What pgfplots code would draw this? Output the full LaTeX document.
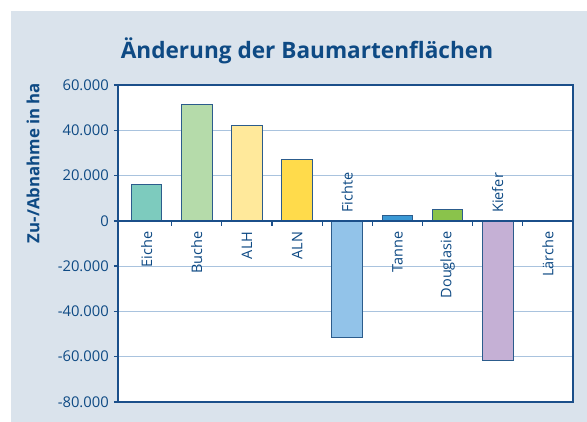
\documentclass[border=0pt]{standalone}
\usepackage{pgfplots}
\pgfplotsset{compat=1.18}
\usepackage{fontspec}
\setmainfont{Open Sans}
\definecolor{panel}{HTML}{DAE3EC}
\definecolor{txt}{HTML}{0E4A84}
\definecolor{axl}{HTML}{1B4F8A}
\definecolor{gridc}{HTML}{A9C3DE}
\definecolor{edge}{HTML}{2C5C8C}
\definecolor{cEiche}{HTML}{7DCBBE}
\definecolor{cBuche}{HTML}{B5DBAA}
\definecolor{cALH}{HTML}{FFE99B}
\definecolor{cALN}{HTML}{FFDB4B}
\definecolor{cFichte}{HTML}{92C3E9}
\definecolor{cTanne}{HTML}{3B99D5}
\definecolor{cDouglasie}{HTML}{8AC34B}
\definecolor{cKiefer}{HTML}{C5B0D5}
\begin{document}
\begin{tikzpicture}[x=1pt,y=1pt]
\fill[white] (0,0) rectangle (587,422);
\fill[panel] (11,0) rectangle (587,411);
\node[font=\bfseries\fontsize{22.6}{26}\selectfont, text=txt] at (307,371) {Änderung der Baumartenflächen};
\node[rotate=90, font=\bfseries\fontsize{16.8}{19}\selectfont, text=txt] at (33,259) {Zu-/Abnahme in ha};
\begin{axis}[at={(118pt,20pt)}, anchor=south west, scale only axis,
  width=455pt, height=317pt,
  xmin=-0.57, xmax=8.5, ymin=-80000, ymax=60000,
  xtick=\empty, scaled y ticks=false,
  ytick={-80000,-60000,-40000,-20000,0,20000,40000,60000},
  yticklabels={-80.000,-60.000,-40.000,-20.000,0,20.000,40.000,60.000},
  ytick pos=left, tick align=outside, major tick length=4pt,
  ymajorgrids, grid style={draw=gridc, line width=1pt},
  axis line style={draw=axl, line width=1.3pt},
  tick style={draw=axl, line width=1.3pt},
  yticklabel style={font=\fontsize{14.8}{17}\selectfont, text=txt, inner sep=0pt, xshift=-5pt},
  axis background/.style={fill=white},
  clip=false]
\addplot[ybar, bar width=0.61, bar shift=0pt, draw=edge, line width=1pt, fill=cEiche] coordinates {(0,16000)};
\addplot[ybar, bar width=0.61, bar shift=0pt, draw=edge, line width=1pt, fill=cBuche] coordinates {(1,51500)};
\addplot[ybar, bar width=0.61, bar shift=0pt, draw=edge, line width=1pt, fill=cALH] coordinates {(2,42300)};
\addplot[ybar, bar width=0.61, bar shift=0pt, draw=edge, line width=1pt, fill=cALN] coordinates {(3,27000)};
\addplot[ybar, bar width=0.61, bar shift=0pt, draw=edge, line width=1pt, fill=cFichte] coordinates {(4,-51300)};
\addplot[ybar, bar width=0.61, bar shift=0pt, draw=edge, line width=1pt, fill=cTanne] coordinates {(5,2200)};
\addplot[ybar, bar width=0.61, bar shift=0pt, draw=edge, line width=1pt, fill=cDouglasie] coordinates {(6,5200)};
\addplot[ybar, bar width=0.61, bar shift=0pt, draw=edge, line width=1pt, fill=cKiefer] coordinates {(7,-61800)};
\addplot[ybar, bar width=0.61, bar shift=0pt, draw=none, fill=none] coordinates {(8,0)};
\draw[axl, line width=1.3pt] (axis cs:-0.57,0) -- (axis cs:8.5,0);
\pgfplotsinvokeforeach{0.5,1.5,2.5,3.5,4.5,5.5,6.5,7.5}{\draw[axl, line width=1.3pt] (axis cs:#1,0) -- ++(0pt,-5pt);}
\tikzset{cat/.style={rotate=90, inner sep=0pt, font=\fontsize{14.5}{17}\selectfont, text=txt}}
\node[cat, anchor=east] at (axis cs:0,-4700) {Eiche};
\node[cat, anchor=east] at (axis cs:1,-4700) {Buche};
\node[cat, anchor=east] at (axis cs:2,-4700) {ALH};
\node[cat, anchor=east] at (axis cs:3,-4700) {ALN};
\node[cat, anchor=west] at (axis cs:4,3500) {Fichte};
\node[cat, anchor=east] at (axis cs:5,-4700) {Tanne};
\node[cat, anchor=east] at (axis cs:6,-4700) {Douglasie};
\node[cat, anchor=west] at (axis cs:7,3500) {Kiefer};
\node[cat, anchor=east] at (axis cs:8,-4700) {Lärche};
\end{axis}
\end{tikzpicture}
\end{document}
